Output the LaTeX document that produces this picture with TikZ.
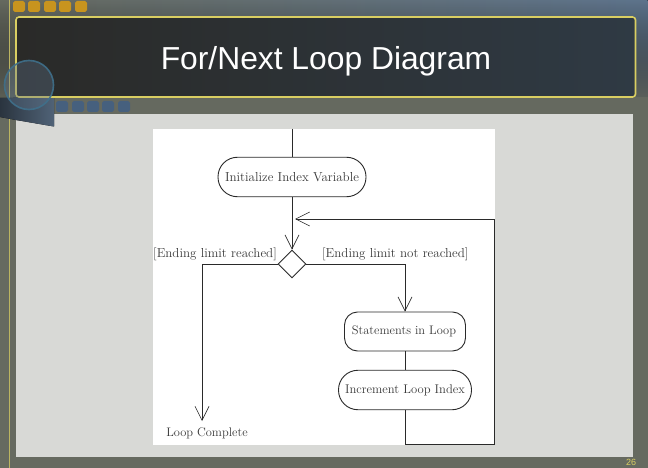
\documentclass[tikz,border=0pt]{standalone}
\usepackage{fontspec}
\newfontfamily\titlefont{Liberation Sans}
\usetikzlibrary{arrows.meta,shapes.geometric,fadings,positioning}
\definecolor{bgolive}{HTML}{666A60}
\definecolor{bgblue}{HTML}{5E748C}
\definecolor{panelgray}{HTML}{D8D9D6}
\definecolor{boxleft}{HTML}{2A2A28}
\definecolor{boxright}{HTML}{2F3A44}
\definecolor{goldline}{HTML}{D9CE62}
\definecolor{gdot}{HTML}{C8941E}
\definecolor{bdot}{HTML}{46607E}
\definecolor{inkline}{HTML}{2A2A2A}
\definecolor{inktext}{HTML}{3A3A3A}
\tikzset{
  x=1pt,y=-1pt,
  activity/.style={draw=inkline,line width=0.9pt,fill=white,text=inktext,inner sep=0pt,
    font=\fontsize{12.6}{15}\selectfont},
  pill/.style={activity,rounded corners=19.5pt},
  soft/.style={activity,rounded corners=13pt},
  choice/.style={diamond,draw=inkline,line width=0.9pt,fill=white,minimum width=28pt,minimum height=28pt,inner sep=0pt},
  flow/.style={draw=inkline,line width=0.9pt},
  flowarrow/.style={flow,-{Straight Barb[length=14pt,width=14pt,line width=0.6pt]}},
  guard/.style={text=inktext,inner sep=0pt,font=\fontsize{13}{15}\selectfont},
  ydot/.style={fill=#1,rounded corners=1.8pt},
}
\begin{document}
\begin{tikzpicture}
\useasboundingbox (0,0) rectangle (648,468);
% backdrop
\fill[bgolive] (0,0) rectangle (648,468);
\fill[left color=bgolive,right color=bgblue,path fading=south] (0,0) rectangle (648,110);
\fill[bgolive,opacity=.9] (16,97) rectangle (648,114);
% gold rule
\fill[goldline!75!bgolive] (8.7,0) rectangle (10.3,468);
% gold squares
\foreach \xx in {13,28,44,59,75}
  \fill[ydot=gdot] (\xx,1) rectangle ++(12,11);
% blue squares
\foreach \xx in {56,72,87,102,118}
  \fill[ydot=bdot] (\xx,101) rectangle ++(12,11);
% main panel
\fill[panelgray] (16,114) rectangle (633,457);
% wedge
\fill[left color=bgblue!45!black,right color=bgblue!85!black] (0,98) -- (54,97) -- (54,126.5) -- (16,120) -- (0,117) -- cycle;
% title box
\draw[goldline,line width=1.6pt,left color=boxleft,middle color=boxleft,right color=boxright,rounded corners=3pt] (16,17) rectangle (635.5,97);
% lens
\fill[bgblue,opacity=.35] (29,85) circle (24.5);
\draw[bdot!90!cyan,line width=1.6pt,opacity=.9] (29,85) circle (24.5);
\node[inner sep=0pt,text=white] (title) at (326,61) {\titlefont\fontsize{31.8}{36}\selectfont For/Next Loop Diagram};
\node[inner sep=0pt,text=goldline] (pagenum) at (631,462) {\titlefont\fontsize{9}{10}\selectfont 26};
% figure
\fill[white] (153,129) rectangle (495,445);
\coordinate (start) at (292,129);
\node[pill,font=\fontsize{13}{15}\selectfont,minimum width=148pt,minimum height=39.5pt] (init) at (292,177) {Initialize Index Variable};
\node[choice] (dec) at (292,264) {};
\node[soft,font=\fontsize{12.4}{15}\selectfont,minimum width=121pt,minimum height=39pt] (stmt) at (405,331.5) {\raisebox{-0.8pt}{\hspace*{-2pt}Statements in Loop}};
\node[pill,minimum width=133pt,minimum height=39.5pt] (incr) at (405,390) {\raisebox{-0.8pt}{Increment Loop Index}};
\node[guard,font=\fontsize{12.4}{15}\selectfont] (done) at (207,433) {Loop Complete};
\node[guard,anchor=east] (glimit) at (277,254) {[Ending limit reached]};
\node[guard,anchor=west] (gnot) at (322,254) {[Ending limit not reached]};
\coordinate (merge) at (295,219);
\coordinate (corner) at (494,444);
\coordinate (donetip) at (202,421);
\draw[flow] (start) -- (init);
\draw[flowarrow] (init) -- (dec.north);
\draw[flowarrow] (dec.west) -| (donetip);
\draw[flowarrow] (dec.east) -| (stmt.north);
\draw[flow] (stmt) -- (incr);
\draw[flowarrow] (incr.south) |- (corner) |- (merge);
\end{tikzpicture}
\end{document}
